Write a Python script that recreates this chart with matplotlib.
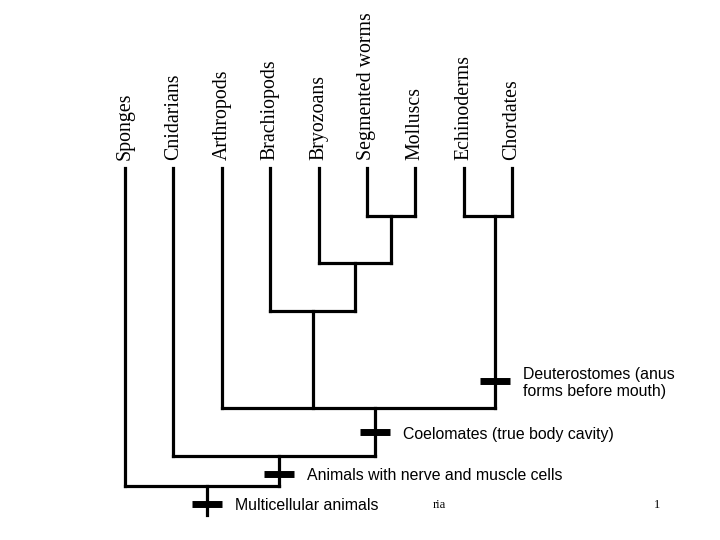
"""
Cladogram of animal phyla with the shared derived characters marked on the branches
"""

import matplotlib
matplotlib.use("Agg")
import matplotlib.pyplot as plt

### data
taxa = ["Sponges", "Cnidarians", "Arthropods", "Brachiopods", "Bryozoans",
        "Segmented worms", "Molluscs", "Echinoderms", "Chordates"]
leaf_depth = 168

# internal nodes: name, children, x (leaf-index units), depth (top = 0)
node_names = ["annelid_mollusc", "deut", "bryo", "brach", "coel", "cnid", "root"]
node_children = [["Segmented worms", "Molluscs"],
                 ["Echinoderms", "Chordates"],
                 ["Bryozoans", "annelid_mollusc"],
                 ["Brachiopods", "bryo"],
                 ["Arthropods", "brach", "deut"],
                 ["Cnidarians", "coel"],
                 ["Sponges", "cnid"]]
node_x = [5.5, 7.65, 4.75, 3.875, 5.17, 3.18, 1.69]
node_depth = [216, 216, 263, 311, 408, 456, 486]
root_base = 515

# characters: label, branch (node above the tick), depth of tick
char_labels = ["Deuterostomes (anus\nforms before mouth)",
               "Coelomates (true body cavity)",
               "Animals with nerve and muscle cells",
               "Multicellular animals"]
char_branch = ["deut", "coel", "cnid", "root"]
char_depth = [381, 432, 474, 504]

### positions
pos = {t: (i, leaf_depth) for i, t in enumerate(taxa)}
for n, x, d in zip(node_names, node_x, node_depth):
	pos[n] = (x, d)

fig = plt.figure(figsize=(7.2, 5.4), dpi=100)
ax = fig.add_axes([0, 0, 1, 1])
# x: 48.37 px per leaf, first leaf at 125 px
ax.set_xlim(-125.1/48.37, (720-125.1)/48.37)
ax.set_ylim(540, 0)
ax.axis("off")

lw = 2.3
for n, kids in zip(node_names, node_children):
	x, d = pos[n]
	xs = [pos[k][0] for k in kids]
	ax.plot([min(xs), max(xs)], [d, d], color="black", lw=lw, solid_capstyle="projecting")
	for k in kids:
		kx, kd = pos[k]
		ax.plot([kx, kx], [kd, d], color="black", lw=lw, solid_capstyle="projecting")
ax.plot([pos["root"][0]]*2, [pos["root"][1], root_base], color="black", lw=lw)

# leaf labels
for t in taxa:
	x, d = pos[t]
	ax.text(x, d-8, t, rotation=90, ha="center", va="bottom",
	        family="Liberation Serif", fontsize=14.3)

# character ticks
half = 15/48.37
for lab, br, d in zip(char_labels, char_branch, char_depth):
	x = pos[br][0]
	ax.plot([x-half, x+half], [d, d], color="black", lw=5, solid_capstyle="butt")
	ax.text(x+half+13/48.37, d+2, lab, ha="left", va="center",
	        family="Liberation Sans", fontsize=11.4, linespacing=1.2)

# slide footer
ax.text((433-125.1)/48.37, 505, "ria", ha="left", va="center",
        family="Liberation Serif", fontsize=9)
ax.text((654-125.1)/48.37, 505, "1", ha="left", va="center",
        family="Liberation Serif", fontsize=9)

fig.savefig("out.png", dpi=100)
